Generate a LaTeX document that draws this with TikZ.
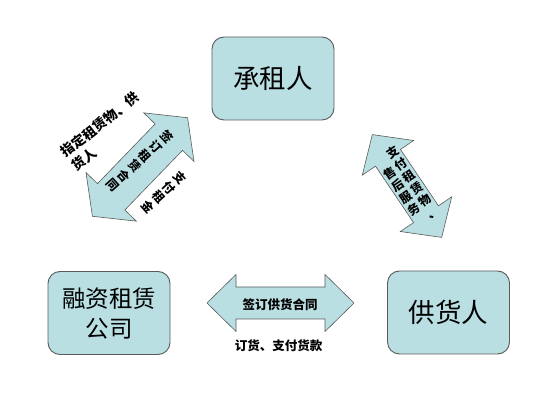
\documentclass[tikz,border=0pt]{standalone}
\usepackage{fontspec}
\usepackage{tikz}
\newfontfamily\cjk{Noto Sans CJK SC}
\definecolor{boxfill}{RGB}{185,223,227}
\definecolor{boxline}{RGB}{90,90,90}
\tikzset{
  partybox/.style={draw=boxline,fill=boxfill,line width=0.9pt,rounded corners=12pt,minimum width=122pt,minimum height=83pt,inner sep=0pt,align=center},
  flowarrow/.style={draw=boxline,fill=boxfill,line width=0.6pt},
  flowtext/.style={inner sep=0pt,align=center,font=\cjk\bfseries\fontsize{12}{14.4}\selectfont}
}
\begin{document}
\begin{tikzpicture}[x=1pt,y=1pt]
      \useasboundingbox (0,0) rectangle (538,404);
      \node[partybox,font=\cjk\fontsize{26.5}{30}\selectfont] (lessee) at (273,325.5) {承租人};
      \node[partybox,font=\cjk\fontsize{23.5}{30}\selectfont] (lessor) at (109,91) {融资租赁\\公司};
      \node[partybox,font=\cjk\fontsize{26.5}{30}\selectfont] (supplier) at (448.5,91.5) {供货人};
      \begin{scope}[shift={(140,237)},rotate=46]
        \draw[flowarrow] (-68.5,0) -- (-41.5,35) -- (-41.5,19) -- (41.5,19) -- (41.5,35) -- (68.5,0) -- (41.5,-35) -- (41.5,-19) -- (-41.5,-19) -- (-41.5,-35) -- cycle;
      \end{scope}
      \begin{scope}[shift={(407,218)},rotate=-56]
        \draw[flowarrow] (-62,0) -- (-34,31) -- (-34,15) -- (34,15) -- (34,31) -- (62,0) -- (34,-31) -- (34,-15) -- (-34,-15) -- (-34,-31) -- cycle;
      \end{scope}
      \begin{scope}[shift={(280.5,101)}]
        \draw[flowarrow] (-73.5,0) -- (-44.5,28.5) -- (-44.5,16) -- (44.5,16) -- (44.5,28.5) -- (73.5,0) -- (44.5,-28.5) -- (44.5,-16) -- (-44.5,-16) -- (-44.5,-28.5) -- cycle;
      \end{scope}
      \node[flowtext,rotate=-48] (leasecontract) at (140,243) {签\\订\\租\\赁\\合\\同};
      \node[flowtext,rotate=-48] (rentpay) at (164,211.5) {支\\付\\租\\金};
      \node[flowtext,align=left,rotate=38,font=\cjk\bfseries\fontsize{13.5}{17.5}\selectfont] (assign) at (105.4,272.6) {指定租赁物、供\\货人};
      \node[flowtext,rotate=34] (deliver) at (412.5,221.5) {支\\付\\租\\赁\\物\\、};
      \node[flowtext,rotate=34] (service) at (401.5,212.5) {售\\后\\服\\务};
      \node[flowtext,font=\cjk\bfseries\fontsize{12.5}{14}\selectfont] (supplycontract) at (280,99) {签订供货合同};
      \node[flowtext,font=\cjk\bfseries\fontsize{12.5}{14}\selectfont] (orderpay) at (278.5,58) {订货、支付货款};
    \end{tikzpicture}
\end{document}
